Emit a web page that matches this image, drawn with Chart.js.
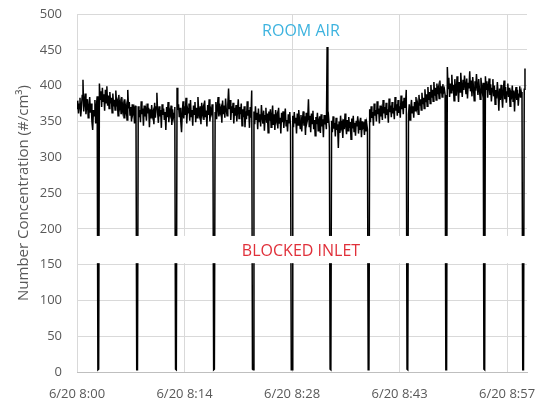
<!DOCTYPE html>
<html><head><meta charset="utf-8">
<script src="https://cdn.jsdelivr.net/npm/chart.js@4"></script>
<style>html,body{margin:0;padding:0;background:#fff}#c{display:block}</style>
</head><body>
<canvas id="c" width="553" height="404"></canvas>
<script>
// ---- data ----
const dateLabel = '6/20';
const startHour = 8;
const sampleStepMinutes = 0.1;           // minutes between samples, starting at 8:00
// particle number concentration (#/cm3); values near 0 are the blocked-inlet checks
const concentration = [
  368,379,361,374,383,357,371,386,408,364,377,389,360,372,381,355,369,384,362,375,350,338,366,358,380,347,371,385,
  3,4,
  403,381,392,370,397,378,388,365,394,376,399,372,386,368,391,375,383,362,389,371,380,366,393,374,378,358,387,369,376,361,384,366,373,355,381,364,371,352,394,368,377,359,370,350,374,362,367,347,372,360,
  3,3,
  371,356,366,349,378,360,368,344,372,357,365,351,375,361,369,342,367,354,373,358,363,346,376,355,370,390,362,348,371,357,366,341,374,359,368,352,363,338,370,356,377,349,365,360,372,345,367,355,361,370,
  4,3,
  397,366,374,356,369,350,335,361,378,354,371,359,383,347,368,362,375,351,380,357,366,344,372,360,377,349,369,355,384,363,358,371,346,376,361,368,352,379,356,365,343,373,359,381,350,367,362,374,357,
  3,4,
  362,377,353,370,384,357,375,363,368,348,379,360,372,355,382,366,358,374,396,367,380,352,371,362,376,347,369,358,373,350,365,381,354,370,360,375,344,367,356,371,342,364,353,378,358,366,341,370,355,393,
  4,3,
  364,346,371,353,362,339,368,350,360,343,373,356,347,365,337,358,369,348,361,334,364,351,367,342,357,372,345,360,338,366,352,358,340,369,347,355,333,362,349,364,341,356,368,344,352,336,360,348,363,342,
  3,3,
  358,342,363,348,355,333,361,345,366,351,340,359,336,353,364,344,357,331,362,349,354,381,343,358,335,361,347,365,339,352,330,356,346,362,337,350,357,334,360,343,353,328,359,346,352,339,454,348,355,341,
  4,3,
  351,335,357,340,348,329,355,338,346,313,350,334,358,342,347,327,353,339,361,344,332,352,337,356,341,349,325,354,340,358,336,348,330,351,343,357,333,346,338,355,328,350,342,345,331,353,336,347,339,
  3,4,
  367,349,371,355,363,344,375,358,366,350,378,360,368,347,372,357,365,352,380,361,370,354,376,359,367,348,382,363,372,356,377,361,369,353,384,365,374,358,380,362,371,355,386,367,378,360,383,369,375,394,
  4,3,
  360,374,352,368,380,362,371,355,377,365,384,369,375,360,387,372,381,366,390,374,383,368,395,377,388,371,398,380,391,375,401,383,394,378,405,386,397,380,403,388,396,382,407,389,399,384,402,391,395,387,
  3,3,
  426,396,411,384,403,390,415,393,401,379,409,395,386,413,397,377,405,391,418,399,384,408,394,414,401,388,410,382,404,396,420,392,407,385,412,398,379,406,393,416,400,387,409,395,381,411,397,390,404,
  4,3,
  413,395,406,383,399,410,387,402,378,396,409,385,400,374,394,382,405,389,365,396,380,401,385,369,393,407,381,398,376,391,403,384,397,371,390,386,400,378,393,364,389,398,380,394,372,388,399,383,391,385,
  3,3,
  395,424
];
const xTickMinutes = [0, 14.4, 28.8, 43.2, 57.6];
const yTickValues = [0, 50, 100, 150, 200, 250, 300, 350, 400, 450, 500];
const yTitle = 'Number Concentration (#/cm³)';
const roomAirLabel = 'ROOM AIR';
const blockedLabel = 'BLOCKED INLET';
const labelMaskRange = [152, 190];   // value band blanked behind the "BLOCKED INLET" label
const roomAirLabelAt = [30, 475];    // [minute, value]
const blockedLabelAt = [30, 169];

// ---- build ----
const points = concentration.map((v, i) => ({ x: i * sampleStepMinutes, y: v }));
const FONT = '"Open Sans", "Noto Sans", sans-serif';
const GRAY = '#595959';

const labelsPlugin = {
  id: 'labels',
  afterDatasetsDraw(chart) {
    const { ctx, chartArea: a, scales: { x, y } } = chart;
    ctx.save();
    const yTop = y.getPixelForValue(labelMaskRange[1]);
    const yBot = y.getPixelForValue(labelMaskRange[0]);
    ctx.fillStyle = '#ffffff';
    ctx.fillRect(a.left + 1, yTop, a.right - a.left, yBot - yTop);
    ctx.font = '16px ' + FONT;
    ctx.textAlign = 'center';
    ctx.textBaseline = 'middle';
    ctx.fillStyle = '#e0303a';
    ctx.fillText(blockedLabel, x.getPixelForValue(blockedLabelAt[0]), y.getPixelForValue(blockedLabelAt[1]));
    ctx.fillStyle = '#3db3df';
    ctx.fillText(roomAirLabel, x.getPixelForValue(roomAirLabelAt[0]), y.getPixelForValue(roomAirLabelAt[1]));
    ctx.restore();
  }
};

new Chart(document.getElementById('c'), {
  type: 'line',
  data: { datasets: [{
    data: points, borderColor: '#000', borderWidth: 1.5, pointRadius: 0,
    tension: 0, fill: false
  }]},
  options: {
    responsive: false, animation: false,
    layout: { padding: { top: 14, right: 26, left: 0, bottom: 0 } },
    plugins: { legend: { display: false }, tooltip: { enabled: false } },
    scales: {
      x: {
        type: 'linear', min: 0, max: 60.27,
        afterBuildTicks: s => { s.ticks = xTickMinutes.map(v => ({ value: v })); },
        afterFit: s => { s.height = 32; s.paddingLeft = 0; s.paddingRight = 0; },
        ticks: {
          autoSkip: false, maxRotation: 0, color: GRAY, padding: 14,
          font: { family: FONT, size: 13 },
          callback: v => `${dateLabel} ${startHour}:${String(Math.floor(v + 1e-9)).padStart(2, '0')}`
        },
        grid: { color: '#d9d9d9', drawTicks: false },
        border: { color: '#bfbfbf' }
      },
      y: {
        min: 0, max: 500,
        afterBuildTicks: s => { s.ticks = yTickValues.map(v => ({ value: v })); },
        afterFit: s => { s.width = 77; s.paddingTop = 0; s.paddingBottom = 0; },
        ticks: { color: GRAY, padding: 15, font: { family: FONT, size: 13 } },
        grid: { color: '#d9d9d9', drawTicks: false },
        border: { display: false },
        title: { display: true, text: yTitle, color: GRAY, font: { family: FONT, size: 15 }, padding: { top: 15, bottom: 0 } }
      }
    }
  },
  plugins: [labelsPlugin]
});
</script>
</body></html>
